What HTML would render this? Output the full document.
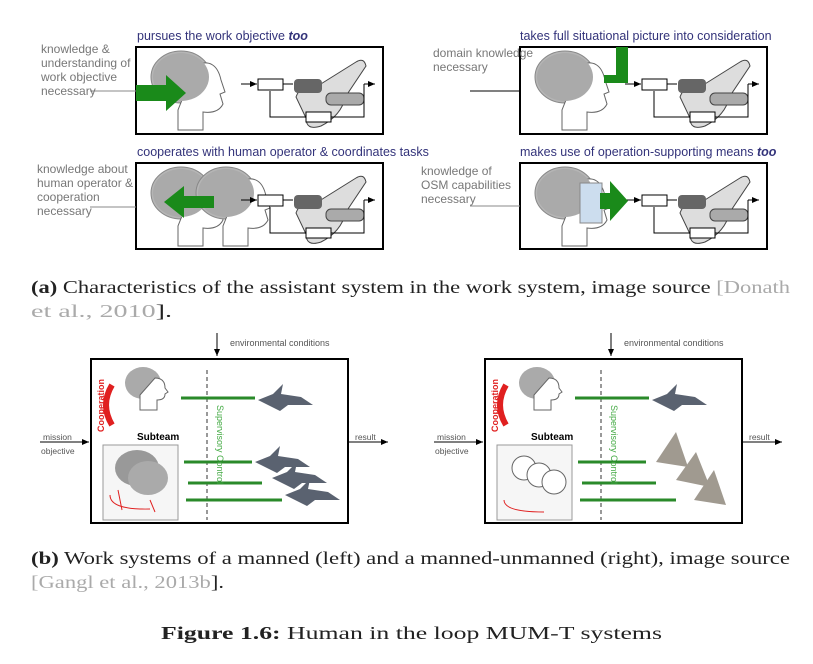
<!DOCTYPE html>
<html><head><style>
body{margin:0;background:#fff;width:813px;height:664px;overflow:hidden;position:relative}
.t{position:absolute;font-family:"Liberation Sans",sans-serif;white-space:nowrap}
.ti{font-size:12.5px;color:#33337a}
.lb{font-size:12px;color:#777;line-height:14px}
.cap{font-family:"Liberation Serif","DejaVu Serif",serif;font-size:18px;fill:#222}
</style></head><body>
<svg width="813" height="664" style="position:absolute;left:0;top:0">
<defs>
<marker id="ar" markerWidth="8" markerHeight="8" refX="7" refY="4" orient="auto"><path d="M0,1 L7,4 L0,7z" fill="#000"/></marker>
<g id="loop">
<line x1="105" y1="37" x2="121" y2="37" stroke="#000" marker-end="url(#ar)"/>
<rect x="122" y="32" width="25" height="11" fill="#fff" stroke="#000"/>
<line x1="147" y1="37" x2="157" y2="37" stroke="#000"/>
<path d="M160,50 q5,-14 20,-10 l40,-25 q8,-5 10,4 l-20,30 q-5,20 -25,30 q-15,5 -15,-8z" fill="#ddd" stroke="#444"/>
<rect x="158" y="32" width="28" height="14" rx="4" fill="#666"/>
<rect x="190" y="46" width="38" height="12" rx="5" fill="#aaa" stroke="#444"/>
<line x1="228" y1="37" x2="239" y2="37" stroke="#000" marker-end="url(#ar)"/>
<polyline points="228,37 228,70 195,70" fill="none" stroke="#000"/>
<rect x="170" y="65" width="25" height="10" fill="#fff" stroke="#000"/>
<polyline points="170,70 134,70 134,44" fill="none" stroke="#000"/>
</g>
<g id="head">
<ellipse cx="45" cy="30" rx="30" ry="26" fill="#b5b5b5" stroke="#888"/>
<path d="M60,18 q20,-8 25,15 l4,12 -5,2 3,10 q-5,10 -20,8 l0,18 -25,0 0,-20z" fill="#fff" stroke="#666"/>
<ellipse cx="45" cy="30" rx="28" ry="24" fill="#aaa"/>
</g>
<g id="bpanel">
<rect x="91" y="359" width="257" height="164" fill="#fff" stroke="#000" stroke-width="2"/>
<line x1="217" y1="333" x2="217" y2="356" stroke="#000" marker-end="url(#ar)"/>
<line x1="40" y1="442" x2="89" y2="442" stroke="#000" marker-end="url(#ar)"/>
<line x1="348" y1="442" x2="388" y2="442" stroke="#000" marker-end="url(#ar)"/>
<line x1="207" y1="370" x2="207" y2="520" stroke="#333" stroke-dasharray="4,3"/>
<ellipse cx="143" cy="383" rx="18" ry="16" fill="#aaa"/>
<path d="M155,378 q10,0 10,10 l3,4 -3,2 q0,6 -8,6 l0,10 -17,0 0,-15z" fill="#fff" stroke="#666"/>
<path d="M112,385 q-12,20 0,40" fill="none" stroke="#e02020" stroke-width="6"/>
<rect x="103" y="445" width="75" height="75" fill="#f6f6f6" stroke="#999"/>
<line x1="181" y1="398" x2="255" y2="398" stroke="#2a8a2a" stroke-width="3"/>
<line x1="184" y1="462" x2="252" y2="462" stroke="#2a8a2a" stroke-width="3"/>
<line x1="188" y1="483" x2="262" y2="483" stroke="#2a8a2a" stroke-width="3"/>
<line x1="186" y1="500" x2="282" y2="500" stroke="#2a8a2a" stroke-width="3"/>
<path d="M258,400 l15,-6 10,-10 -2,10 20,3 12,8 -25,0 -8,6z" fill="#5a6270"/>
</g>
</defs>
<g transform="translate(136,47)"><rect x="0" y="0" width="247" height="87" fill="#fff" stroke="#000" stroke-width="2"/><use href="#head"/><use href="#loop"/><path d="M0,38 h30 v-10 l20,18 -20,18 v-10 h-30z" fill="#1a8a1a"/></g>
<line x1="90" y1="91" x2="136" y2="91" stroke="#888"/>
<g transform="translate(520,47)"><rect x="0" y="0" width="247" height="87" fill="#fff" stroke="#000" stroke-width="2"/><use href="#head"/><use href="#loop"/><path d="M96,0 h12 v36 h-24 v-8 h12z" fill="#1a8a1a"/></g>
<line x1="470" y1="91" x2="520" y2="91" stroke="#000"/>
<g transform="translate(136,163)"><rect x="0" y="0" width="247" height="86" fill="#fff" stroke="#000" stroke-width="2"/><use href="#head"/><use href="#head" transform="translate(45,0)"/><use href="#loop"/><path d="M78,33 h-30 v-10 l-20,16 20,16 v-10 h30z" fill="#1a8a1a"/></g>
<line x1="90" y1="207" x2="136" y2="207" stroke="#888"/>
<g transform="translate(520,163)"><rect x="0" y="0" width="247" height="86" fill="#fff" stroke="#000" stroke-width="2"/><use href="#head"/><rect x="60" y="20" width="22" height="40" fill="#cde" stroke="#888"/><use href="#loop"/><path d="M80,30 h10 v-12 l18,20 -18,20 v-12 h-10z" fill="#1a8a1a"/></g>
<line x1="470" y1="206" x2="520" y2="206" stroke="#888"/>
<use href="#bpanel"/>
<ellipse cx="137" cy="468" rx="22" ry="18" fill="#999"/>
<ellipse cx="148" cy="478" rx="20" ry="17" fill="#aaa"/>
<path d="M110,495 q0,15 40,14 M118,490 l4,20 M150,500 l5,12" fill="none" stroke="#e02020"/>
<path d="M255,462 l15,-6 10,-10 -2,10 20,3 12,8 -25,0 -8,6z" fill="#5a6270"/>
<path d="M272,478 l15,-6 10,-10 -2,10 20,3 12,8 -25,0 -8,6z" fill="#5a6270"/>
<path d="M285,495 l15,-6 10,-10 -2,10 20,3 12,8 -25,0 -8,6z" fill="#5a6270"/>
<g transform="translate(394,0)">
<use href="#bpanel"/>
<circle cx="130" cy="468" r="12" fill="#fff" stroke="#666"/><circle cx="145" cy="475" r="12" fill="#fff" stroke="#666"/><circle cx="160" cy="482" r="12" fill="#fff" stroke="#666"/>
<path d="M110,500 q0,12 40,12" fill="none" stroke="#e02020"/>
<path d="M262,462 l20,-30 12,35z" fill="#a09a90"/><path d="M282,480 l20,-28 14,35z" fill="#a09a90"/><path d="M300,500 l20,-30 12,35z" fill="#a09a90"/>
</g>
<text class="cap" x="31" y="293" textLength="759" lengthAdjust="spacingAndGlyphs"><tspan font-weight="bold">(a)</tspan> Characteristics of the assistant system in the work system, image source <tspan fill="#aaa">[Donath</tspan></text>
<text class="cap" x="31" y="317" textLength="141" lengthAdjust="spacingAndGlyphs"><tspan fill="#aaa">et al., 2010</tspan>].</text>
<text class="cap" x="31" y="564" textLength="759" lengthAdjust="spacingAndGlyphs"><tspan font-weight="bold">(b)</tspan> Work systems of a manned (left) and a manned-unmanned (right), image source</text>
<text class="cap" x="31" y="588" textLength="193" lengthAdjust="spacingAndGlyphs"><tspan fill="#aaa">[Gangl et al., 2013b</tspan>].</text>
<text class="cap" x="161" y="639" textLength="501" lengthAdjust="spacingAndGlyphs"><tspan font-weight="bold">Figure 1.6:</tspan> Human in the loop MUM-T systems</text>
</svg>
<div class="t ti" style="left:137px;top:29px">pursues the work objective <b><i>too</i></b></div>
<div class="t ti" style="left:520px;top:29px">takes full situational picture into consideration</div>
<div class="t ti" style="left:137px;top:145px">cooperates with human operator &amp; coordinates tasks</div>
<div class="t ti" style="left:520px;top:145px">makes use of operation-supporting means <b><i>too</i></b></div>
<div class="t lb" style="left:41px;top:42px">knowledge &amp;<br>understanding of<br>work objective<br>necessary</div>
<div class="t lb" style="left:433px;top:46px">domain knowledge<br>necessary</div>
<div class="t lb" style="left:37px;top:162px">knowledge about<br>human operator &amp;<br>cooperation<br>necessary</div>
<div class="t lb" style="left:421px;top:164px">knowledge of<br>OSM capabilities<br>necessary</div>
<div class="t" style="left:230px;top:338px;font-size:9px;color:#555">environmental conditions</div>
<div class="t" style="left:624px;top:338px;font-size:9px;color:#555">environmental conditions</div>
<div class="t" style="left:43px;top:432px;font-size:8.5px;color:#555">mission</div>
<div class="t" style="left:41px;top:446px;font-size:8.5px;color:#555">objective</div>
<div class="t" style="left:355px;top:432px;font-size:8.5px;color:#555">result</div>
<div class="t" style="left:437px;top:432px;font-size:8.5px;color:#555">mission</div>
<div class="t" style="left:435px;top:446px;font-size:8.5px;color:#555">objective</div>
<div class="t" style="left:749px;top:432px;font-size:8.5px;color:#555">result</div>
<div class="t" style="left:137px;top:432px;font-size:10px;font-weight:bold">Subteam</div>
<div class="t" style="left:531px;top:432px;font-size:10px;font-weight:bold">Subteam</div>
<div class="t" style="left:96px;top:432px;font-size:9px;color:#e02020;font-weight:bold;transform:rotate(-90deg);transform-origin:0 0">Cooperation</div>
<div class="t" style="left:490px;top:432px;font-size:9px;color:#e02020;font-weight:bold;transform:rotate(-90deg);transform-origin:0 0">Cooperation</div>
<div class="t" style="left:225px;top:405px;font-size:9px;color:#4a4;transform:rotate(90deg);transform-origin:0 0">Supervisory Control</div>
<div class="t" style="left:619px;top:405px;font-size:9px;color:#4a4;transform:rotate(90deg);transform-origin:0 0">Supervisory Control</div>
</body></html>
